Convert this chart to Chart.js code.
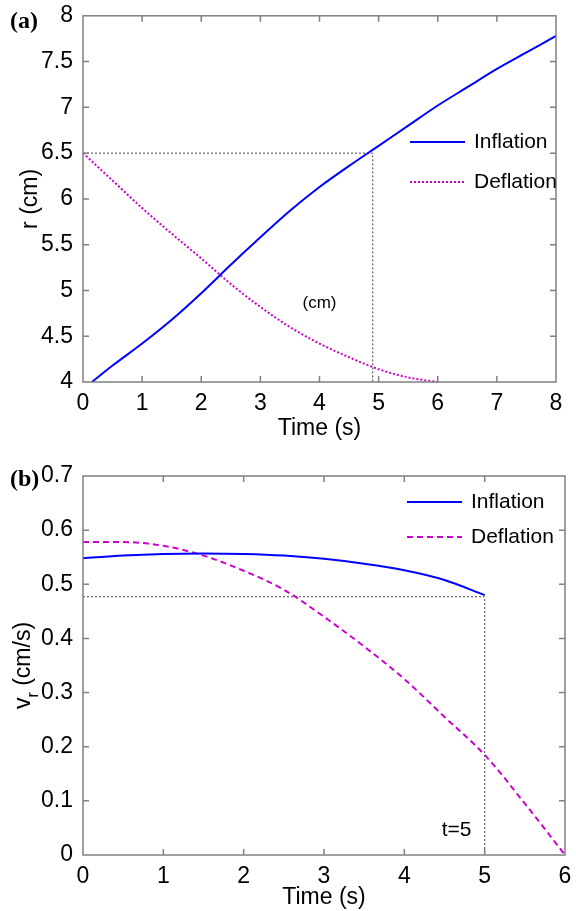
<!DOCTYPE html>
<html>
<head>
<meta charset="utf-8">
<script src="https://cdn.jsdelivr.net/npm/chart.js@4"></script>
<style>
html, body { margin: 0; padding: 0; background: #fff; }
#wa { position: absolute; left: 0; top: 0; width: 576px; height: 455px; }
#wb { position: absolute; left: 0; top: 455px; width: 576px; height: 456px; }
</style>
</head>
<body>
<div id="wa"><canvas id="chartA"></canvas></div>
<div id="wb"><canvas id="chartB"></canvas></div>
<script>
// panel (a): radius vs time
const timeInfA = [0.15, 0.5, 1, 1.5, 2, 2.5, 3, 3.5, 4, 4.5, 5, 5.5, 6, 6.5, 7, 7.5, 8];
const radiusInf = [4.0, 4.18, 4.42, 4.68, 4.97, 5.28, 5.58, 5.87, 6.13, 6.36, 6.58, 6.8, 7.02, 7.22, 7.42, 7.6, 7.78];
const timeDefA = [0, 0.5, 1, 1.5, 2, 2.5, 3, 3.5, 4, 4.5, 5, 5.5, 6];
const radiusDef = [6.5, 6.2, 5.9, 5.62, 5.35, 5.07, 4.82, 4.6, 4.42, 4.27, 4.14, 4.05, 4.0];
const guideXA = [0, 4.9, 4.9];
const guideYA = [6.5, 6.5, 4.0];

// panel (b): radial velocity vs time
const timeInfB = [0, 0.5, 1, 1.5, 2, 2.5, 3, 3.5, 4, 4.5, 5];
const velInf = [0.548, 0.553, 0.556, 0.557, 0.556, 0.553, 0.547, 0.538, 0.526, 0.508, 0.48];
const timeDefB = [0, 0.5, 1, 1.5, 2, 2.5, 3, 3.5, 4, 4.5, 5, 5.5, 6];
const velDef = [0.578, 0.578, 0.571, 0.553, 0.525, 0.49, 0.44, 0.385, 0.325, 0.255, 0.185, 0.095, 0.0];
const guideXB = [0, 5, 5];
const guideYB = [0.477, 0.477, 0];

const seriesNames = ['Inflation', 'Deflation'];

const BLUE = '#0000ff';
const MAG = '#cc00cc';
const FONT = 'Liberation Sans, Arial, sans-serif';

function pts(xs, ys) {
  return xs.map((x, i) => ({ x: x, y: ys[i] }));
}

const frame = {
  id: 'frame',
  afterDraw(chart, args, o) {
    const ctx = chart.ctx;
    const a = chart.chartArea;
    const xs = chart.scales.x, ys = chart.scales.y;
    ctx.save();
    // box + inward ticks
    ctx.strokeStyle = '#808080';
    ctx.lineWidth = 1.5;
    ctx.strokeRect(a.left, a.top, a.right - a.left, a.bottom - a.top);
    ctx.beginPath();
    xs.ticks.forEach(t => {
      const p = xs.getPixelForValue(t.value);
      if (p <= a.left + 1 || p >= a.right - 1) return;
      ctx.moveTo(p, a.bottom); ctx.lineTo(p, a.bottom - 6);
      ctx.moveTo(p, a.top); ctx.lineTo(p, a.top + 6);
    });
    ys.ticks.forEach(t => {
      const p = ys.getPixelForValue(t.value);
      if (p <= a.top + 1 || p >= a.bottom - 1) return;
      ctx.moveTo(a.left, p); ctx.lineTo(a.left + 6, p);
      ctx.moveTo(a.right, p); ctx.lineTo(a.right - 6, p);
    });
    ctx.stroke();

    ctx.fillStyle = '#000';
    // panel letter
    ctx.font = 'bold 24px Liberation Serif, serif';
    ctx.textAlign = 'left';
    ctx.textBaseline = 'middle';
    ctx.fillText(o.panel, 10, o.panelY);

    // axis titles
    ctx.font = '23px ' + FONT;
    ctx.textAlign = 'center';
    ctx.textBaseline = 'middle';
    ctx.fillText(o.xTitle, (a.left + a.right) / 2, o.xTitleY);
    ctx.save();
    ctx.translate(o.yTitleX, (a.top + a.bottom) / 2);
    ctx.rotate(-Math.PI / 2);
    if (o.ySub) {
      const main = o.yTitle[0], rest = o.yTitle[1];
      ctx.font = '23px ' + FONT;
      const w1 = ctx.measureText(main).width;
      ctx.font = '16px ' + FONT;
      const w2 = ctx.measureText(o.ySub).width;
      ctx.font = '23px ' + FONT;
      const w3 = ctx.measureText(rest).width;
      const x0 = -(w1 + w2 + w3) / 2;
      ctx.textAlign = 'left';
      ctx.fillText(main, x0, 0);
      ctx.font = '16px ' + FONT;
      ctx.fillText(o.ySub, x0 + w1, 10);
      ctx.font = '23px ' + FONT;
      ctx.fillText(rest, x0 + w1 + w2, 0);
    } else {
      ctx.fillText(o.yTitle, 0, 0);
    }
    ctx.restore();

    // legend
    ctx.font = '21px ' + FONT;
    ctx.textAlign = 'left';
    o.legend.forEach((it, i) => {
      const ds = chart.data.datasets[i];
      ctx.strokeStyle = ds.borderColor;
      ctx.lineWidth = ds.borderWidth;
      ctx.setLineDash(ds.borderDash || []);
      ctx.beginPath();
      ctx.moveTo(it.x0, it.y); ctx.lineTo(it.x1, it.y);
      ctx.stroke();
      ctx.setLineDash([]);
      ctx.fillStyle = '#000';
      ctx.fillText(ds.label, it.x1 + 9, it.y);
    });

    // notes placed in data coordinates
    (o.notes || []).forEach(n => {
      ctx.font = n.size + 'px ' + FONT;
      ctx.textAlign = 'center';
      ctx.fillStyle = '#000';
      ctx.fillText(n.text, xs.getPixelForValue(n.x), ys.getPixelForValue(n.y));
    });
    ctx.restore();
  }
};

const fmt = v => String(Number(v.toFixed(2)));

function makeChart(id, cfg) {
  return new Chart(document.getElementById(id), {
    type: 'line',
    data: {
      datasets: [
        { label: seriesNames[0], data: pts(cfg.tInf, cfg.vInf), borderColor: BLUE, borderWidth: 2, pointRadius: 0, cubicInterpolationMode: 'monotone', clip: false },
        { label: seriesNames[1], data: pts(cfg.tDef, cfg.vDef), borderColor: MAG, borderWidth: 2, borderDash: cfg.defDash, pointRadius: 0, cubicInterpolationMode: 'monotone', clip: false },
        { label: 'guide', data: pts(cfg.gx, cfg.gy), borderColor: '#444', borderWidth: 1, borderDash: [2, 2], pointRadius: 0, tension: 0 }
      ]
    },
    options: {
      responsive: true,
      maintainAspectRatio: false,
      animation: false,
      layout: { padding: { top: cfg.padTop, right: cfg.padRight, left: 0, bottom: 0 } },
      plugins: {
        legend: { display: false },
        tooltip: { enabled: false },
        frame: cfg.frame
      },
      scales: {
        x: {
          type: 'linear', min: 0, max: cfg.xMax,
          ticks: { stepSize: 1, color: '#000', font: { family: FONT, size: 23 }, padding: cfg.xPad, maxRotation: 0, callback: fmt },
          grid: { display: false },
          border: { display: false },
          afterFit: s => { s.height = cfg.xAxisH; }
        },
        y: {
          min: cfg.yMin, max: cfg.yMax,
          ticks: { stepSize: cfg.yStep, color: '#000', font: { family: FONT, size: 23 }, padding: 2, callback: fmt },
          grid: { display: false },
          border: { display: false },
          afterFit: s => { s.width = 83; }
        }
      }
    },
    plugins: [frame]
  });
}

makeChart('chartA', {
  tInf: timeInfA, vInf: radiusInf, tDef: timeDefA, vDef: radiusDef, gx: guideXA, gy: guideYA,
  defDash: [2, 2], xMax: 8, yMin: 4, yMax: 8, yStep: 0.5,
  padTop: 13, padRight: 20, xAxisH: 73, xPad: 0,
  frame: {
    panel: '(a)', panelY: 22,
    xTitle: 'Time (s)', xTitleY: 429,
    yTitle: 'r (cm)', yTitleX: 31,
    legend: [{ x0: 410, x1: 465, y: 142 }, { x0: 410, x1: 465, y: 182 }],
    notes: [{ text: '(cm)', x: 4.0, y: 4.86, size: 17 }]
  }
});

makeChart('chartB', {
  tInf: timeInfB, vInf: velInf, tDef: timeDefB, vDef: velDef, gx: guideXB, gy: guideYB,
  defDash: [6, 4], xMax: 6, yMin: 0, yMax: 0.7, yStep: 0.1,
  padTop: 21, padRight: 11, xAxisH: 56, xPad: 0,
  frame: {
    panel: '(b)', panelY: 25,
    xTitle: 'Time (s)', xTitleY: 443,
    yTitle: ['v', ' (cm/s)'], ySub: 'r', yTitleX: 24,
    legend: [{ x0: 407, x1: 462, y: 47 }, { x0: 407, x1: 462, y: 82 }],
    notes: [{ text: 't=5', x: 4.65, y: 0.045, size: 21 }]
  }
});
</script>
</body>
</html>
